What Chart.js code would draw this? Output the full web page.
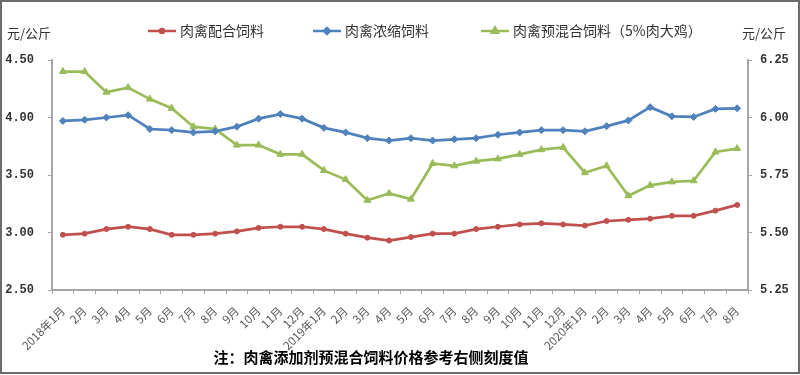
<!DOCTYPE html>
<html>
<head>
<meta charset="utf-8">
<script src="https://cdn.jsdelivr.net/npm/chart.js@4/dist/chart.umd.min.js"></script>
<style>
  html, body { margin: 0; padding: 0; background: #fff; }
  canvas { display: block; }
</style>
</head>
<body>
<canvas id="feed" width="800" height="375"></canvas>
<script>
const months = [
  "2018年1月", "2月", "3月", "4月", "5月", "6月", "7月", "8月", "9月", "10月", "11月", "12月",
  "2019年1月", "2月", "3月", "4月", "5月", "6月", "7月", "8月", "9月", "10月", "11月", "12月",
  "2020年1月", "2月", "3月", "4月", "5月", "6月", "7月", "8月"
];
const seriesNames = ["肉禽配合饲料", "肉禽浓缩饲料", "肉禽预混合饲料（5%肉大鸡）"];
const compound = [2.98, 2.99, 3.03, 3.05, 3.03, 2.98, 2.98, 2.99, 3.01, 3.04, 3.05, 3.05,
  3.03, 2.99, 2.955, 2.93, 2.96, 2.99, 2.99, 3.03, 3.05, 3.07, 3.08, 3.07,
  3.06, 3.10, 3.11, 3.12, 3.145, 3.145, 3.19, 3.24];
const concentrate = [3.97, 3.98, 4.00, 4.02, 3.90, 3.89, 3.87, 3.88, 3.92, 3.99, 4.03, 3.99,
  3.91, 3.87, 3.82, 3.80, 3.82, 3.80, 3.81, 3.82, 3.85, 3.87, 3.89, 3.89,
  3.88, 3.925, 3.975, 4.09, 4.01, 4.005, 4.075, 4.08];
const premix = [6.20, 6.20, 6.11, 6.13, 6.08, 6.04, 5.96, 5.95, 5.88, 5.88, 5.84, 5.84,
  5.77, 5.73, 5.64, 5.67, 5.645, 5.80, 5.79, 5.81, 5.82, 5.84, 5.86, 5.87,
  5.76, 5.79, 5.66, 5.705, 5.72, 5.725, 5.85, 5.865];
const leftTicks = [2.5, 4.5, 0.5];   // min, max, step
const rightTicks = [5.25, 6.25, 0.25];
const unitText = "元/公斤";
const noteText = "注：肉禽添加剂预混合饲料价格参考右侧刻度值";

const colors = ["#c0504d", "#4f81bd", "#9bbb59"];
const markers = ["circle", "rectRot", "triangle"];
const markerSize = [2.5, 3.5, 4];
const cjk = "'Noto Sans CJK SC', 'Noto Sans', sans-serif";
const axisGray = "#a6a6a6";

// legend, units, note and frame drawn on top
const extras = {
  id: "extras",
  afterDraw(chart) {
    const c = chart.ctx;
    c.save();
    c.textBaseline = "middle";
    c.fillStyle = "#333";
    c.font = "13px " + cjk;
    c.textAlign = "left";
    c.fillText(unitText, 7, 33);
    c.fillText(unitText, 742, 33);

    const legendX = [148, 313, 481];
    c.font = "14px " + cjk;
    seriesNames.forEach((name, i) => {
      const x = legendX[i], y = 31;
      c.strokeStyle = colors[i];
      c.lineWidth = 2.5;
      c.beginPath();
      c.moveTo(x, y);
      c.lineTo(x + 28, y);
      c.stroke();
      c.fillStyle = colors[i];
      Chart.helpers.drawPoint(c, {
        pointStyle: markers[i], radius: markerSize[i] - 0.5, borderWidth: 1
      }, x + 14, y);
      c.fill();
      c.fillStyle = "#333";
      c.fillText(name, x + 32, y);
    });

    c.font = "bold 15px " + cjk;
    c.fillStyle = "#000";
    c.textAlign = "center";
    c.fillText(noteText, 371, 357);

    c.strokeStyle = "#6b6b6b";
    c.lineWidth = 2;
    c.strokeRect(1, 1, 798, 372);
    c.restore();
  }
};

const datasets = [compound, concentrate, premix].map((vals, i) => ({
  label: seriesNames[i],
  data: vals,
  yAxisID: i === 2 ? "y2" : "y",
  borderColor: colors[i],
  backgroundColor: colors[i],
  borderWidth: 2.75,
  pointStyle: markers[i],
  pointRadius: markerSize[i],
  pointBorderWidth: 1,
  tension: 0
}));

const yTickFont = { family: "'Liberation Mono', monospace", size: 12, weight: "bold" };

new Chart(document.getElementById("feed"), {
  type: "line",
  data: { labels: months, datasets: datasets },
  plugins: [extras],
  options: {
    responsive: false,
    animation: false,
    layout: { padding: { top: 60, left: 0, right: 0, bottom: 0 } },
    plugins: { legend: { display: false }, tooltip: { enabled: false } },
    scales: {
      x: {
        offset: true,
        grid: { offset: true, drawOnChartArea: false, tickLength: 4, color: axisGray },
        border: { color: axisGray, width: 2 },
        ticks: {
          autoSkip: false, minRotation: 45, maxRotation: 45, padding: 10,
          color: "#595959", font: { family: cjk, size: 11.5 }
        },
        afterFit(s) { s.height = 85; }
      },
      y: {
        position: "left",
        min: leftTicks[0], max: leftTicks[1],
        grid: { drawOnChartArea: false, tickLength: 4, color: axisGray },
        border: { color: axisGray, width: 2 },
        ticks: {
          stepSize: leftTicks[2], padding: 14, color: "#333", font: yTickFont,
          callback: v => v.toFixed(2)
        },
        afterFit(s) { s.width = 52; }
      },
      y2: {
        position: "right",
        min: rightTicks[0], max: rightTicks[1],
        grid: { drawOnChartArea: false, tickLength: 4, color: axisGray },
        border: { color: axisGray, width: 2 },
        ticks: {
          stepSize: rightTicks[2], padding: 8, color: "#333", font: yTickFont,
          callback: v => v.toFixed(2)
        },
        afterFit(s) { s.width = 52; }
      }
    }
  }
});
</script>
</body>
</html>
